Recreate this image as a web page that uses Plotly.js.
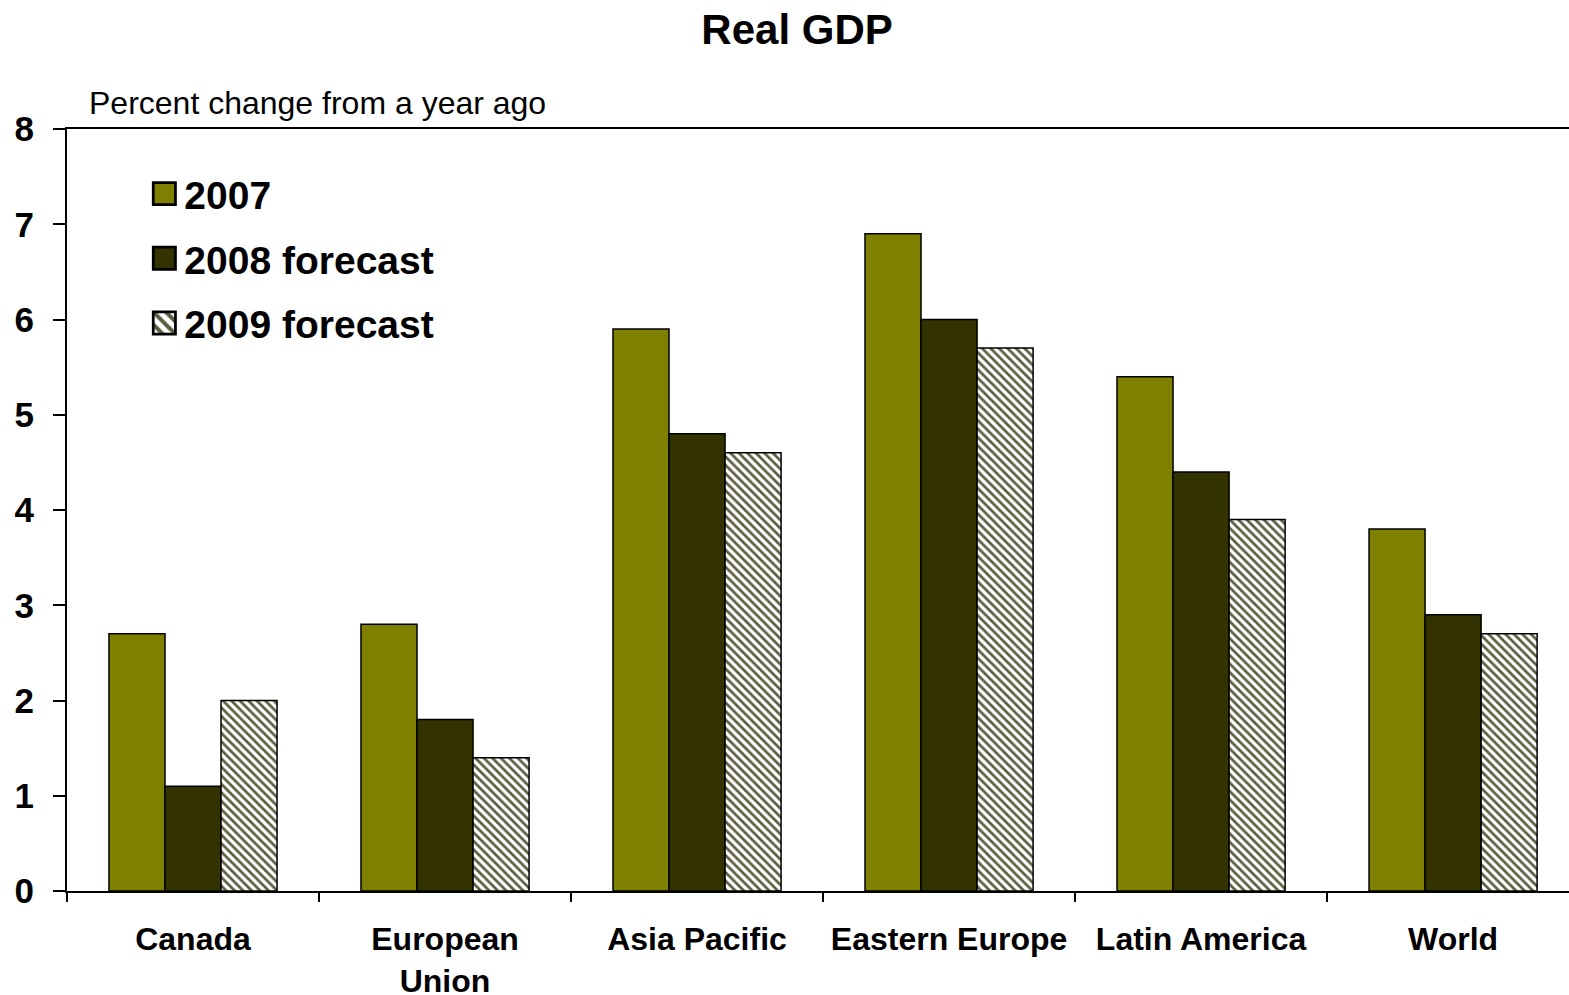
<!DOCTYPE html>
<html><head><meta charset="utf-8">
<script src="https://cdn.plot.ly/plotly-3.0.1.min.js"></script>
<style>html,body{margin:0;padding:0;background:#fff}#chart{width:1569px;height:995px}</style>
</head><body><div id="chart"></div>
<script>
const categories = ["Canada", "European<br>Union", "Asia Pacific", "Eastern Europe", "Latin America", "World"];
const seriesNames = ["2007", "2008 forecast", "2009 forecast"];
const gdp2007 = [2.7, 2.8, 5.9, 6.9, 5.4, 3.8];
const gdp2008 = [1.1, 1.8, 4.8, 6.0, 4.4, 2.9];
const gdp2009 = [2.0, 1.4, 4.6, 5.7, 3.9, 2.7];
const yTicks = [0, 1, 2, 3, 4, 5, 6, 7, 8];

const FONT = "Liberation Sans, Arial, sans-serif";
const edge = {color: "#000", width: 1.5};

const traces = [
  {type: "bar", name: seriesNames[0], x: categories, y: gdp2007, legendgroup: "a",
   marker: {color: "#808000", line: edge}},
  {type: "bar", name: seriesNames[1], x: categories, y: gdp2008, legendgroup: "b",
   marker: {color: "#333300", line: edge}},
  {type: "bar", name: seriesNames[2], x: categories, y: gdp2009, legendgroup: "c",
   marker: {color: "#ffffff", line: edge,
            pattern: {shape: "\\", fgcolor: "#5c5c40", bgcolor: "#ffffff", size: 6, solidity: 0.45}}}
];

const layout = {
  width: 1569, height: 995,
  margin: {l: 67, r: 0, t: 129, b: 104},
  paper_bgcolor: "#fff", plot_bgcolor: "#fff",
  font: {family: FONT, color: "#000"},
  title: {text: "<b>Real GDP</b>", font: {size: 42, family: FONT, color: "#000"},
          x: 0.508, xanchor: "center", y: 0.971, yanchor: "middle", yref: "container"},
  barmode: "group", bargap: 0.333, bargroupgap: 0,
  showlegend: true,
  legend: {x: 0.0515, y: 0.957, xanchor: "left", yanchor: "top",
           font: {size: 39, family: FONT, color: "#000", weight: "bold"},
           bgcolor: "rgba(0,0,0,0)", traceorder: "grouped", tracegroupgap: 11,
           itemwidth: 30},
  xaxis: {type: "category", range: [-0.5, 5.46], tickson: "boundaries",
          showline: true, linecolor: "#000", linewidth: 2, mirror: true,
          ticks: "outside", ticklen: 9, tickwidth: 2, tickcolor: "#000",
          ticklabelstandoff: 19,
          tickfont: {size: 32, family: FONT, color: "#000", weight: "bold"},
          showgrid: false, zeroline: false, fixedrange: true},
  yaxis: {range: [0, 8], tickvals: yTicks, ticktext: yTicks.map(String),
          showline: true, linecolor: "#000", linewidth: 2,
          ticks: "outside", ticklen: 12, tickwidth: 2, tickcolor: "#000",
          tickfont: {size: 35, family: FONT, color: "#000", weight: "bold"},
          ticklabelstandoff: 12,
          showgrid: false, zeroline: false, fixedrange: true},
  annotations: [{text: "Percent change from a year ago", xref: "paper", yref: "paper",
                 x: 0.0135, y: 1.034, xanchor: "left", yanchor: "middle", showarrow: false,
                 font: {size: 32, family: FONT, color: "#000"}}]
};

Plotly.newPlot("chart", traces, layout, {staticPlot: true}).then(function (gd) {
  gd.querySelectorAll(".legendpoints path").forEach(function (p) {
    const t = p.getAttribute("transform") || "";
    p.setAttribute("transform", t + " scale(1.85)");
  });
});
</script></body></html>
